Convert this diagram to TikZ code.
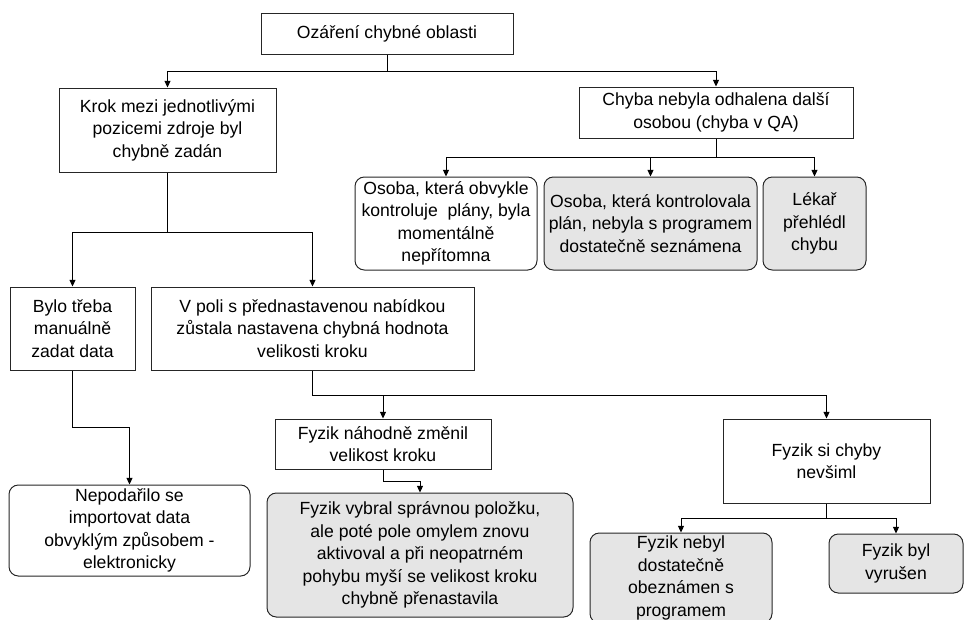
\documentclass[tikz,border=0pt]{standalone}
\usepackage{fontspec}
\setmainfont{Liberation Sans}
\usetikzlibrary{arrows.meta}
\begin{document}
\begin{tikzpicture}[x=0.75pt,y=-0.75pt,
  box/.style={draw=black!85,line width=0.75pt,fill=white,inner sep=0pt,align=center,
    font=\fontsize{13.2pt}{16.9pt}\selectfont},
  rbox/.style={box,rounded corners=7pt},
  gbox/.style={rbox,fill=black!10},
  arr/.style={draw=black,line width=0.75pt,-{Triangle[length=5pt,width=4.5pt]}}]

\useasboundingbox (0,0) rectangle (976,619);
\clip (0,0) rectangle (976,619);

% level 0
\node[box,minimum width=189pt,minimum height=30.75pt] (top) at (387,33.5) {Ozáření chybné oblasti};

% level 1
\node[box,minimum width=162.75pt,minimum height=63pt] (krok) at (167.5,130)
  {Krok mezi jednotlivými\\pozicemi zdroje byl\\chybně zadán};
\node[box,minimum width=205.5pt,minimum height=38.25pt] (chyba) at (716,112.5)
  {Chyba nebyla odhalena další\\osobou (chyba v QA)};

% QA branch
\node[rbox,minimum width=136.5pt,minimum height=69.75pt] (osoba) at (446,223.5)
  {Osoba, která obvykle\\kontroluje\ \ plány, byla\\momentálně\\nepřítomna};
\node[gbox,minimum width=159.75pt,minimum height=69.75pt] (kontrola) at (650.5,223.5)
  {Osoba, která kontrolovala\\plán, nebyla s programem\\dostatečně seznámena};
\node[gbox,minimum width=77.25pt,minimum height=69.75pt] (lekar) at (814.5,223.5)
  {Lékař\\přehlédl\\chybu};

% step branch
\node[box,minimum width=93.75pt,minimum height=62.25pt] (bylo) at (72.5,328.5)
  {Bylo třeba\\manuálně\\zadat data};
\node[box,minimum width=242.25pt,minimum height=62.25pt] (pole) at (312.5,328.5)
  {V poli s přednastavenou nabídkou\\zůstala nastavena chybná hodnota\\velikosti kroku};
\node[rbox,minimum width=180.75pt,minimum height=68.25pt] (import) at (129.5,530.5)
  {Nepodařilo se\\importovat data\\obvyklým způsobem -\\elektronicky};

% physicist
\node[box,minimum width=162pt,minimum height=37.5pt] (zmena) at (383,444)
  {Fyzik náhodně změnil\\velikost kroku};
\node[gbox,minimum width=229.5pt,minimum height=93pt] (vybral) at (420,555)
  {Fyzik vybral správnou položku,\\ale poté pole omylem znovu\\aktivoval a při neopatrném\\pohybu myší se velikost kroku\\chybně přenastavila};
\node[box,minimum width=155.25pt,minimum height=63pt] (nevsiml) at (826.5,461)
  {Fyzik si chyby\\nevšiml};
\node[gbox,minimum width=136.5pt,minimum height=67.5pt] (znalost) at (681,578)
  {Fyzik nebyl\\dostatečně\\obeznámen s\\programem};
\node[gbox,minimum width=100.5pt,minimum height=44.25pt] (vyrusen) at (896,563.5)
  {Fyzik byl\\vyrušen};

% junction levels
\coordinate (j0) at (0,71);
\coordinate (j1) at (0,157);
\coordinate (j2) at (0,232);
\coordinate (j3) at (0,427);
\coordinate (j4) at (0,395);
\coordinate (j5) at (0,481);
\coordinate (j6) at (0,518);

% connectors
\draw[arr] (top.south) -- (top.south |- j0) -| (krok.north);
\draw[arr] (top.south |- j0) -| (chyba.north);

\draw[arr] (chyba.south) -- (chyba.south |- j1) -| (osoba.north);
\draw[arr] (chyba.south |- j1) -| (kontrola.north);
\draw[arr] (chyba.south |- j1) -| (lekar.north);

\draw[arr] (krok.south) -- (krok.south |- j2) -| (bylo.north);
\draw[arr] (krok.south |- j2) -| (pole.north);

\draw[arr] (bylo.south) -- (bylo.south |- j3) -| (import.north);

\draw[arr] (pole.south) -- (pole.south |- j4) -| (zmena.north);
\draw[arr] (pole.south |- j4) -| (nevsiml.north);

\draw[arr] (zmena.south) -- (zmena.south |- j5) -| (vybral.north);

\draw[arr] (nevsiml.south) -- (nevsiml.south |- j6) -| (znalost.north);
\draw[arr] (nevsiml.south |- j6) -| (vyrusen.north);

\end{tikzpicture}
\end{document}
